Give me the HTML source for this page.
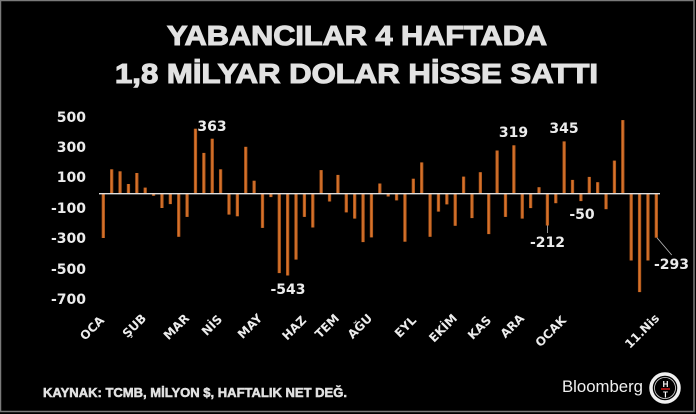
<!DOCTYPE html>
<html><head><meta charset="utf-8"><style>
html,body{margin:0;padding:0;background:#000;width:696px;height:414px;overflow:hidden}
svg{display:block}
.t{font-family:"Liberation Sans","DejaVu Sans",sans-serif;font-weight:bold;fill:#e2e2e2}
.d{font-family:"DejaVu Sans","Liberation Sans",sans-serif;font-weight:bold;fill:#ececec;font-size:14px}
.x{font-family:"DejaVu Sans","Liberation Sans",sans-serif;font-weight:bold;fill:#ececec;font-size:12px}
</style></head><body>
<svg width="696" height="414" viewBox="0 0 696 414" xmlns="http://www.w3.org/2000/svg">
<rect x="0" y="0" width="696" height="414" fill="#000"/>
<rect x="0.5" y="0.5" width="693.5" height="411" fill="none" stroke="#7a7a7a" stroke-width="1.5"/>
<defs><linearGradient id="g" x1="0" x2="1" y1="0" y2="0"><stop offset="0" stop-color="#9a4812"/><stop offset="0.45" stop-color="#e07a30"/><stop offset="1" stop-color="#a04c14"/></linearGradient></defs>
<text class="t" x="167" y="45" font-size="28" textLength="380" lengthAdjust="spacingAndGlyphs" stroke="#e2e2e2" stroke-width="1.1">YABANCILAR 4 HAFTADA</text>
<text class="t" x="115" y="83" font-size="28" textLength="483" lengthAdjust="spacingAndGlyphs" stroke="#e2e2e2" stroke-width="1.1">1,8 MİLYAR DOLAR HİSSE SATTI</text>
<g class="d" text-anchor="end">
<text x="86" y="122">500</text><text x="86" y="152">300</text><text x="86" y="182">100</text><text x="86" y="213">-100</text><text x="86" y="243">-300</text><text x="86" y="274">-500</text><text x="86" y="304">-700</text>
</g>
<g fill="url(#g)">
<rect x="101.65" y="193.5" width="3.3" height="44.5"/>
<rect x="110.03" y="169.3" width="3.3" height="24.2"/>
<rect x="118.41" y="171.3" width="3.3" height="22.2"/>
<rect x="126.79" y="184.0" width="3.3" height="9.5"/>
<rect x="135.17" y="173.0" width="3.3" height="20.5"/>
<rect x="143.55" y="187.6" width="3.3" height="5.9"/>
<rect x="151.92" y="193.5" width="3.3" height="2.3"/>
<rect x="160.30" y="193.5" width="3.3" height="14.5"/>
<rect x="168.68" y="193.5" width="3.3" height="10.6"/>
<rect x="177.06" y="193.5" width="3.3" height="43.3"/>
<rect x="185.44" y="193.5" width="3.3" height="23.4"/>
<rect x="193.82" y="128.7" width="3.3" height="64.8"/>
<rect x="202.20" y="152.9" width="3.3" height="40.6"/>
<rect x="210.58" y="138.7" width="3.3" height="54.8"/>
<rect x="218.96" y="169.3" width="3.3" height="24.2"/>
<rect x="227.34" y="193.5" width="3.3" height="21.1"/>
<rect x="235.71" y="193.5" width="3.3" height="22.8"/>
<rect x="244.09" y="146.8" width="3.3" height="46.7"/>
<rect x="252.47" y="180.7" width="3.3" height="12.8"/>
<rect x="260.85" y="193.5" width="3.3" height="34.4"/>
<rect x="269.23" y="193.5" width="3.3" height="3.6"/>
<rect x="277.61" y="193.5" width="3.3" height="79.6"/>
<rect x="285.99" y="193.5" width="3.3" height="82.0"/>
<rect x="294.37" y="193.5" width="3.3" height="66.1"/>
<rect x="302.75" y="193.5" width="3.3" height="23.4"/>
<rect x="311.13" y="193.5" width="3.3" height="34.0"/>
<rect x="319.50" y="170.1" width="3.3" height="23.4"/>
<rect x="327.88" y="193.5" width="3.3" height="8.0"/>
<rect x="336.26" y="174.9" width="3.3" height="18.6"/>
<rect x="344.64" y="193.5" width="3.3" height="18.9"/>
<rect x="353.02" y="193.5" width="3.3" height="25.1"/>
<rect x="361.40" y="193.5" width="3.3" height="48.6"/>
<rect x="369.78" y="193.5" width="3.3" height="43.9"/>
<rect x="378.16" y="183.5" width="3.3" height="10.0"/>
<rect x="386.54" y="193.5" width="3.3" height="3.0"/>
<rect x="394.92" y="193.5" width="3.3" height="6.9"/>
<rect x="403.29" y="193.5" width="3.3" height="48.2"/>
<rect x="411.67" y="178.7" width="3.3" height="14.8"/>
<rect x="420.05" y="162.4" width="3.3" height="31.1"/>
<rect x="428.43" y="193.5" width="3.3" height="43.3"/>
<rect x="436.81" y="193.5" width="3.3" height="18.1"/>
<rect x="445.19" y="193.5" width="3.3" height="10.9"/>
<rect x="453.57" y="193.5" width="3.3" height="32.3"/>
<rect x="461.95" y="176.6" width="3.3" height="16.9"/>
<rect x="470.33" y="193.5" width="3.3" height="24.6"/>
<rect x="478.71" y="172.2" width="3.3" height="21.3"/>
<rect x="487.08" y="193.5" width="3.3" height="40.6"/>
<rect x="495.46" y="150.5" width="3.3" height="43.0"/>
<rect x="503.84" y="193.5" width="3.3" height="23.4"/>
<rect x="512.22" y="145.3" width="3.3" height="48.2"/>
<rect x="520.60" y="193.5" width="3.3" height="25.1"/>
<rect x="528.98" y="193.5" width="3.3" height="14.6"/>
<rect x="537.36" y="187.2" width="3.3" height="6.3"/>
<rect x="545.74" y="193.5" width="3.3" height="32.0"/>
<rect x="554.12" y="193.5" width="3.3" height="9.7"/>
<rect x="562.50" y="141.4" width="3.3" height="52.1"/>
<rect x="570.87" y="179.9" width="3.3" height="13.6"/>
<rect x="579.25" y="193.5" width="3.3" height="7.6"/>
<rect x="587.63" y="176.9" width="3.3" height="16.6"/>
<rect x="596.01" y="182.2" width="3.3" height="11.3"/>
<rect x="604.39" y="193.5" width="3.3" height="15.7"/>
<rect x="612.77" y="160.6" width="3.3" height="32.9"/>
<rect x="621.15" y="120.1" width="3.3" height="73.4"/>
<rect x="629.53" y="193.5" width="3.3" height="67.0"/>
<rect x="637.91" y="193.5" width="3.3" height="98.6"/>
<rect x="646.29" y="193.5" width="3.3" height="67.0"/>
<rect x="654.66" y="193.5" width="3.3" height="44.2"/>
</g>
<line x1="99" y1="193.7" x2="660" y2="193.7" stroke="#e0e0e0" stroke-width="1.3"/>
<line x1="547.4" y1="225.5" x2="547.4" y2="233" stroke="#bbb" stroke-width="0.8"/>
<line x1="657" y1="237.7" x2="671.7" y2="255" stroke="#bbb" stroke-width="0.8"/>
<g class="d" text-anchor="middle">
<text x="212" y="131">363</text>
<text x="288" y="294">-543</text>
<text x="513.5" y="137">319</text>
<text x="564" y="133">345</text>
<text x="582" y="219">-50</text>
<text x="547.5" y="247">-212</text>
<text x="671.5" y="269">-293</text>
</g>
<g class="x" text-anchor="end">
<text transform="translate(105,321) rotate(-45)">OCA</text>
<text transform="translate(147,319) rotate(-45)">ŞUB</text>
<text transform="translate(190,319) rotate(-45)">MAR</text>
<text transform="translate(223,320) rotate(-45)">NİS</text>
<text transform="translate(263,319) rotate(-45)">MAY</text>
<text transform="translate(307,321) rotate(-45)">HAZ</text>
<text transform="translate(340,319) rotate(-45)">TEM</text>
<text transform="translate(373,319) rotate(-45)">AĞU</text>
<text transform="translate(417,321) rotate(-45)">EYL</text>
<text transform="translate(458,319) rotate(-45)">EKİM</text>
<text transform="translate(492,321) rotate(-45)">KAS</text>
<text transform="translate(525,319) rotate(-45)">ARA</text>
<text transform="translate(567,321) rotate(-45)">OCAK</text>
<text transform="translate(660,319) rotate(-45)">11.Nis</text>
</g>
<text class="t" x="43" y="397" font-size="12.5" textLength="304" lengthAdjust="spacingAndGlyphs" stroke="#e2e2e2" stroke-width="0.5">KAYNAK: TCMB, MİLYON $, HAFTALIK NET DEĞ.</text>
<text x="562" y="392" font-family="Liberation Sans, sans-serif" font-size="17" fill="#f0f0f0" textLength="81" lengthAdjust="spacingAndGlyphs">Bloomberg</text>
<circle cx="665" cy="388" r="14" fill="#000" stroke="#f0f0f0" stroke-width="3.5"/>
<circle cx="665" cy="388" r="10.5" fill="none" stroke="#ddd" stroke-width="0.8"/>
<text x="665.5" y="387" font-family="Liberation Sans, sans-serif" font-weight="bold" font-size="8" fill="#fff" text-anchor="middle">H</text>
<line x1="661" y1="389" x2="670" y2="389" stroke="#d01818" stroke-width="1.5"/>
<text x="665.5" y="397.5" font-family="Liberation Sans, sans-serif" font-weight="bold" font-size="8" fill="#fff" text-anchor="middle">T</text>
</svg>
</body></html>
